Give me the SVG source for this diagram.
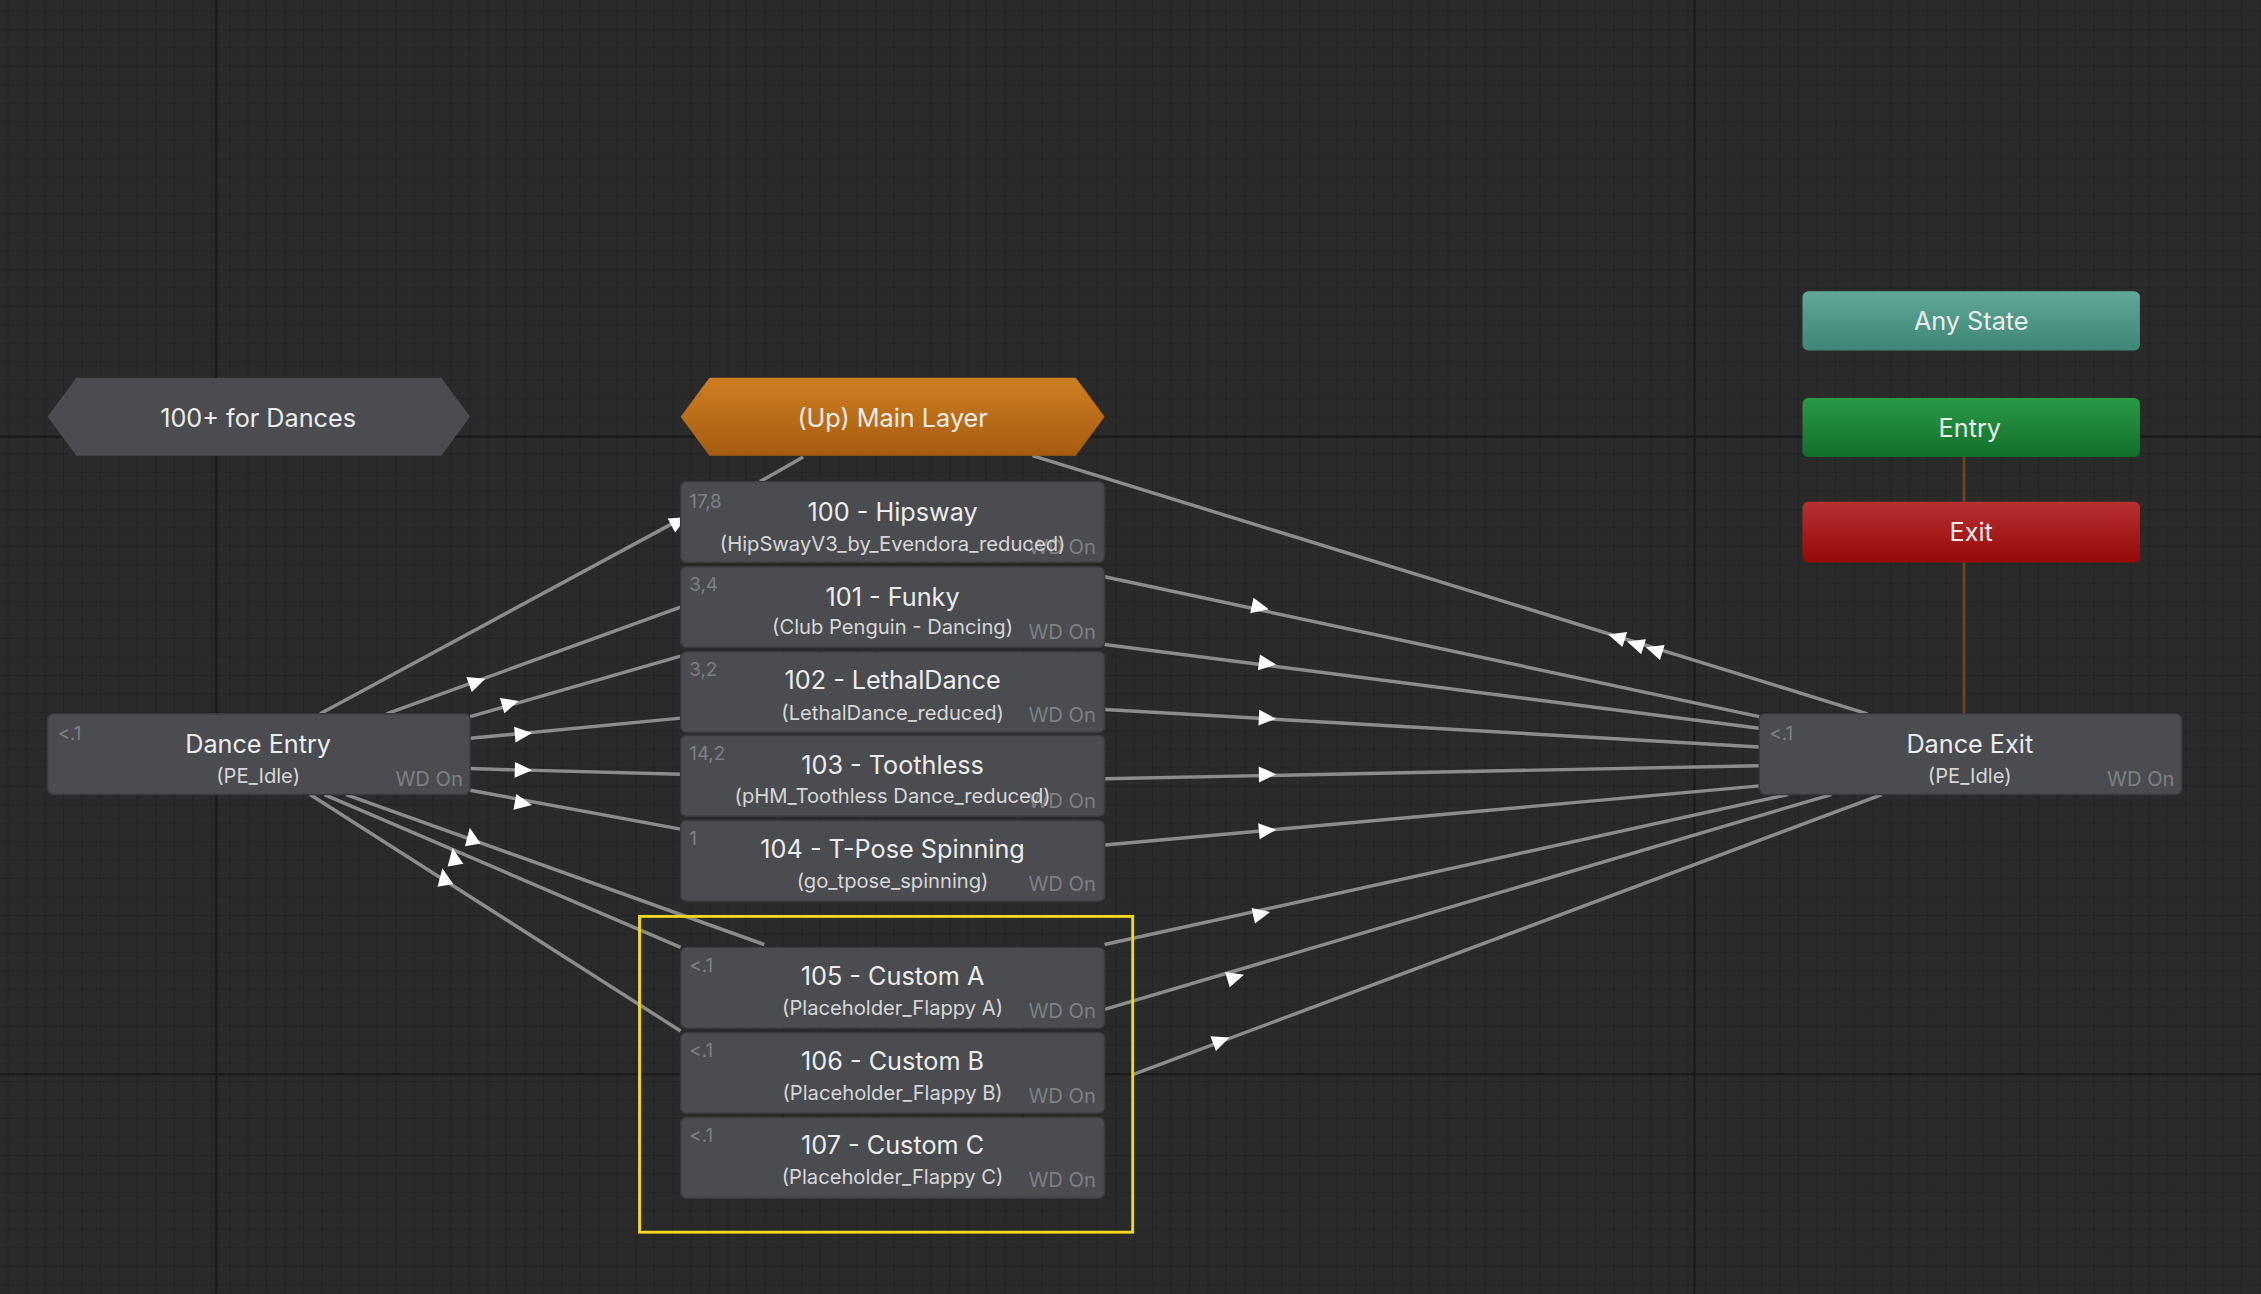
<svg xmlns="http://www.w3.org/2000/svg" width="2261" height="1294" viewBox="0 0 2261 1294">
<defs>
<pattern id="grid" width="12.8" height="12.8" patternUnits="userSpaceOnUse" x="6" y="8">
<path d="M12.8 0V12.8H0" fill="none" stroke="#1f1f1f" stroke-width="0.8"/>
</pattern>
<linearGradient id="gOrange" x1="0" y1="0" x2="0" y2="1"><stop offset="0" stop-color="#cf7f22"/><stop offset="1" stop-color="#a65c10"/></linearGradient>
<linearGradient id="gTeal" x1="0" y1="0" x2="0" y2="1"><stop offset="0" stop-color="#5fa898"/><stop offset="1" stop-color="#3e8676"/></linearGradient>
<linearGradient id="gGreen" x1="0" y1="0" x2="0" y2="1"><stop offset="0" stop-color="#2a9a45"/><stop offset="1" stop-color="#11702a"/></linearGradient>
<linearGradient id="gRed" x1="0" y1="0" x2="0" y2="1"><stop offset="0" stop-color="#b83030"/><stop offset="1" stop-color="#980808"/></linearGradient>
<polygon id="ah" points="7,0 -5,-5.5 -5,5.5" fill="#ffffff"/>
</defs>
<style>
.node{fill:#4a4c50;stroke:#3a3b3e;stroke-width:1}
.t{font-family:Inter,"Open Sans",sans-serif;fill:#ececec;text-anchor:middle;font-size:17.5px}
.s{font-family:Inter,"Open Sans",sans-serif;fill:#d6d6d6;text-anchor:middle;font-size:14px}
.c{font-family:Inter,"Open Sans",sans-serif;fill:#7e8084;font-size:13px}
.w{font-family:Inter,"Open Sans",sans-serif;fill:#7e8084;font-size:14px;text-anchor:end}
.ln{stroke:#8c8c8c;stroke-width:2.4;fill:none}
</style>
<rect width="2261" height="1294" fill="#2a2a2a"/>
<g transform="scale(1.442)">
<rect width="1568" height="897" fill="url(#grid)"/>
<g stroke="#1a1a1a" stroke-width="1.5">
<line x1="150" y1="0" x2="150" y2="897"/><line x1="1175" y1="0" x2="1175" y2="897"/>
<line x1="0" y1="303" x2="1568" y2="303"/><line x1="0" y1="745" x2="1568" y2="745"/>
</g>

<g id="connectors">
<line class="ln" x1="557" y1="317" x2="527" y2="334"/>
<line x1="1362" y1="317" x2="1362" y2="348" stroke="#6a4818" stroke-width="2"/>
<line x1="1362" y1="390" x2="1362" y2="495" stroke="#6a4818" stroke-width="2"/>
<line class="ln" x1="716" y1="316" x2="1295" y2="495"/>
<line class="ln" x1="222" y1="495" x2="472" y2="360"/>
<line class="ln" x1="268" y1="495" x2="472" y2="421"/>
<line class="ln" x1="326" y1="497" x2="472" y2="455"/>
<line class="ln" x1="326" y1="512" x2="472" y2="498"/>
<line class="ln" x1="326" y1="533" x2="472" y2="537"/>
<line class="ln" x1="326" y1="548" x2="472" y2="575"/>
<line class="ln" x1="240" y1="551" x2="530" y2="655"/>
<line class="ln" x1="225" y1="551" x2="472" y2="657"/>
<line class="ln" x1="215" y1="551" x2="472" y2="715"/>
<line class="ln" x1="766" y1="400" x2="1220" y2="497"/>
<line class="ln" x1="766" y1="447" x2="1220" y2="505"/>
<line class="ln" x1="766" y1="492" x2="1220" y2="518"/>
<line class="ln" x1="766" y1="540" x2="1220" y2="531"/>
<line class="ln" x1="766" y1="586" x2="1220" y2="545"/>
<line class="ln" x1="766" y1="655" x2="1240" y2="551"/>
<line class="ln" x1="766" y1="700" x2="1270" y2="551"/>
<line class="ln" x1="786" y1="745" x2="1305" y2="551"/>
<use href="#ah" transform="translate(470,362) rotate(-28.4)"/>
<use href="#ah" transform="translate(330,473) rotate(-19.9)"/>
<use href="#ah" transform="translate(353,488) rotate(-16)"/>
<use href="#ah" transform="translate(362,509) rotate(-5.5)"/>
<use href="#ah" transform="translate(362,534) rotate(1.6)"/>
<use href="#ah" transform="translate(362,557) rotate(10.5)"/>
<use href="#ah" transform="translate(327,581) rotate(-100)"/>
<use href="#ah" transform="translate(315,595) rotate(-100)"/>
<use href="#ah" transform="translate(308,609) rotate(-100)"/>
<use href="#ah" transform="translate(873,421) rotate(12.1)"/>
<use href="#ah" transform="translate(878,460) rotate(7.3)"/>
<use href="#ah" transform="translate(878,498) rotate(3.3)"/>
<use href="#ah" transform="translate(878,537) rotate(-1.1)"/>
<use href="#ah" transform="translate(878,576) rotate(-5.2)"/>
<use href="#ah" transform="translate(874,634) rotate(-12.4)"/>
<use href="#ah" transform="translate(856,678) rotate(-16.5)"/>
<use href="#ah" transform="translate(846,722) rotate(-20.5)"/>
<use href="#ah" transform="translate(1122,442) rotate(197.2)"/>
<use href="#ah" transform="translate(1135,447) rotate(197.2)"/>
<use href="#ah" transform="translate(1148,451) rotate(197.2)"/>
</g>

<g id="n-dances"><polygon points="53,262 306,262 326,289 306,316 53,316 33,289" fill="#4a4c50"/><text class="t" x="179" y="296">100+ for Dances</text></g>
<g id="n-mainlayer"><polygon points="492,262 746,262 766,289 746,316 492,316 472,289" fill="url(#gOrange)"/><text class="t" x="619" y="296">(Up) Main Layer</text></g>
<g id="n-any"><rect x="1250" y="202" width="234" height="41" rx="4" fill="url(#gTeal)"/><text class="t" x="1367" y="229">Any State</text></g>
<g id="n-entry"><rect x="1250" y="276" width="234" height="41" rx="4" fill="url(#gGreen)"/><text class="t" x="1366" y="303">Entry</text></g>
<g id="n-exit"><rect x="1250" y="348" width="234" height="42" rx="4" fill="url(#gRed)"/><text class="t" x="1367" y="375">Exit</text></g>

<g id="n-danceentry"><rect class="node" x="33" y="495" width="293" height="56" rx="4"/><text class="c" x="40" y="513">&lt;.1</text><text class="t" x="179" y="522">Dance Entry</text><text class="s" x="179" y="543">(PE_Idle)</text><text class="w" x="321" y="545">WD On</text></g>
<g id="n-danceexit"><rect class="node" x="1220" y="495" width="293" height="56" rx="4"/><text class="c" x="1227" y="513">&lt;.1</text><text class="t" x="1366" y="522">Dance Exit</text><text class="s" x="1366" y="543">(PE_Idle)</text><text class="w" x="1508" y="545">WD On</text></g>

<g id="n-100"><rect class="node" x="472" y="334" width="294" height="56" rx="4"/><text class="c" x="478" y="352">17,8</text><text class="t" x="619" y="361">100 - Hipsway</text><text class="w" x="760" y="384">WD On</text><text class="s" x="619" y="382">(HipSwayV3_by_Evendora_reduced)</text></g>
<g id="n-101"><rect class="node" x="472" y="393" width="294" height="56" rx="4"/><text class="c" x="478" y="410">3,4</text><text class="t" x="619" y="420">101 - Funky</text><text class="s" x="619" y="440">(Club Penguin - Dancing)</text><text class="w" x="760" y="443">WD On</text></g>
<g id="n-102"><rect class="node" x="472" y="452" width="294" height="56" rx="4"/><text class="c" x="478" y="469">3,2</text><text class="t" x="619" y="478">102 - LethalDance</text><text class="s" x="619" y="499">(LethalDance_reduced)</text><text class="w" x="760" y="501">WD On</text></g>
<g id="n-103"><rect class="node" x="472" y="510" width="294" height="56" rx="4"/><text class="c" x="478" y="527">14,2</text><text class="t" x="619" y="537">103 - Toothless</text><text class="w" x="760" y="560">WD On</text><text class="s" x="619" y="557">(pHM_Toothless Dance_reduced)</text></g>
<g id="n-104"><rect class="node" x="472" y="569" width="294" height="56" rx="4"/><text class="c" x="478" y="586">1</text><text class="t" x="619" y="595">104 - T-Pose Spinning</text><text class="s" x="619" y="616">(go_tpose_spinning)</text><text class="w" x="760" y="618">WD On</text></g>
<g id="n-105"><rect class="node" x="472" y="657" width="294" height="56" rx="4"/><text class="c" x="478" y="674">&lt;.1</text><text class="t" x="619" y="683">105 - Custom A</text><text class="s" x="619" y="704">(Placeholder_Flappy A)</text><text class="w" x="760" y="706">WD On</text></g>
<g id="n-106"><rect class="node" x="472" y="716" width="294" height="56" rx="4"/><text class="c" x="478" y="733">&lt;.1</text><text class="t" x="619" y="742">106 - Custom B</text><text class="s" x="619" y="763">(Placeholder_Flappy B)</text><text class="w" x="760" y="765">WD On</text></g>
<g id="n-107"><rect class="node" x="472" y="775" width="294" height="56" rx="4"/><text class="c" x="478" y="792">&lt;.1</text><text class="t" x="619" y="800">107 - Custom C</text><text class="s" x="619" y="821">(Placeholder_Flappy C)</text><text class="w" x="760" y="823">WD On</text></g>

<rect x="443.5" y="635.5" width="342" height="219" fill="none" stroke="#f2d81e" stroke-width="2"/>
</g>
</svg>
